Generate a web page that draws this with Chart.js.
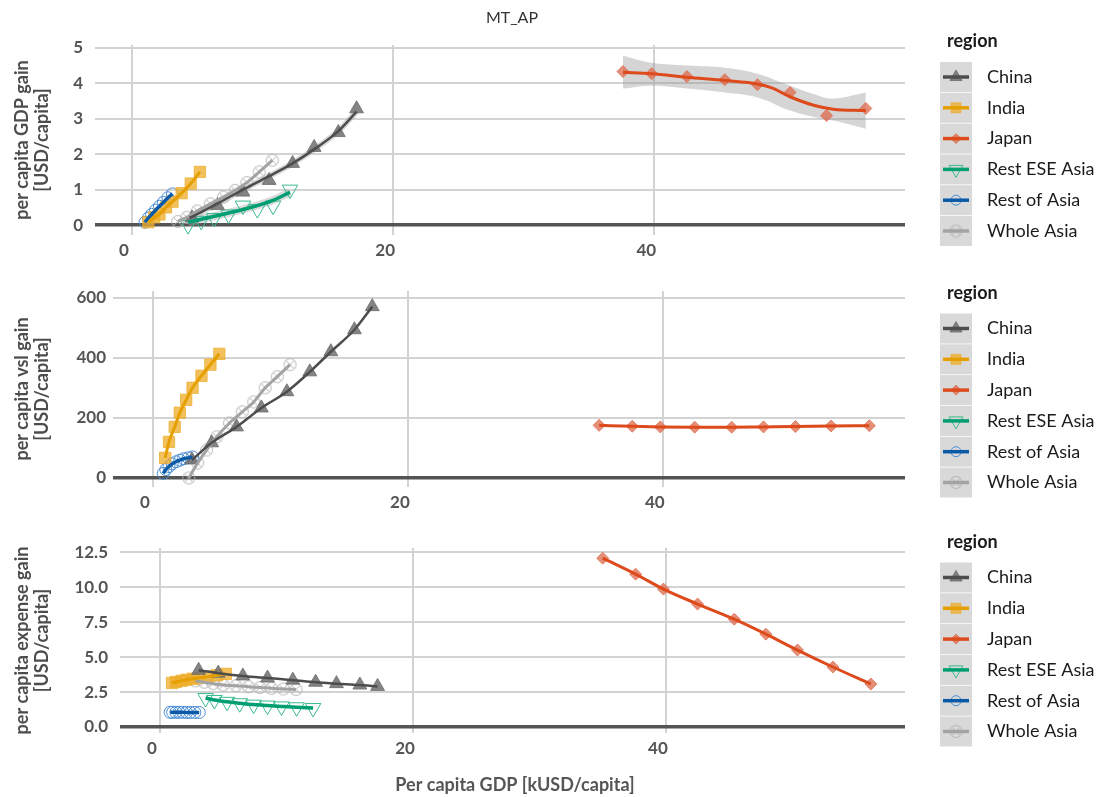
<!DOCTYPE html>
<html lang="en">
<head>
  <meta charset="UTF-8" />
  <title>MT_AP - gains by region</title>
  <script src="https://cdn.jsdelivr.net/npm/chart.js"></script>
  <style>
    body {
      margin: 0;
      background: #ffffff;
      width: 1102px;
      height: 797px;
      overflow: hidden;
      position: relative;
    }
    canvas {
      position: absolute;
      left: 0;
    }
  </style>
</head>
<body>
  <canvas id="gdpGainChart" width="1102" height="262" style="top:0px"></canvas>
  <canvas id="vslGainChart" width="1102" height="255" style="top:262px"></canvas>
  <canvas id="expenseGainChart" width="1102" height="280" style="top:517px"></canvas>

  <script>
    const regions = ['China', 'India', 'Japan', 'Rest ESE Asia', 'Rest of Asia', 'Whole Asia'];

    // per capita GDP [kUSD/capita], one value per period
    const gdpChina = [3.05, 4.6, 6.55, 8.5, 10.5, 12.3, 13.95, 15.8, 17.2];
    const gdpIndia = [0.95, 1.25, 1.7, 2.1, 2.6, 3.1, 3.8, 4.5, 5.2];
    const gdpJapan = [35.0, 37.6, 39.8, 42.5, 45.4, 47.9, 50.4, 53.2, 56.2];
    const gdpRestESE = [3.6, 4.3, 5.3, 6.3, 7.4, 8.5, 9.6, 10.8, 12.1];
    const gdpRestAsia = [0.8, 1.0, 1.25, 1.5, 1.8, 2.1, 2.4, 2.75, 3.1];
    const gdpWhole = [2.8, 3.5, 4.2, 5.0, 6.0, 7.0, 7.9, 8.8, 9.75, 10.75];

    // panel 1: per capita GDP gain (first period has no gain)
    const gdpGainChina = [0.2, 0.55, 0.93, 1.26, 1.74, 2.19, 2.61, 3.28];
    const gdpGainIndia = [0.08, 0.22, 0.3, 0.5, 0.66, 0.9, 1.17, 1.5];
    const gdpGainJapan = [4.33, 4.27, 4.19, 4.10, 3.96, 3.74, 3.09, 3.29];
    const gdpGainRestESE = [0.0, 0.12, 0.2, 0.3, 0.55, 0.45, 0.55, 1.0];
    const gdpGainRestAsia = [0.08, 0.2, 0.3, 0.42, 0.53, 0.64, 0.77, 0.88];
    const gdpGainWhole = [0.1, 0.22, 0.4, 0.6, 0.79, 0.98, 1.2, 1.5, 1.83];

    // smoothed fits in panel 1
    const chinaFitX = [4.4, 6.5, 8.5, 10.5, 12.3, 14.0, 15.8, 17.2];
    const chinaFitY = [0.2, 0.6, 1.0, 1.38, 1.74, 2.15, 2.65, 3.2];
    const japanFitX = [37.6, 39.8, 42.5, 45.4, 47.9, 49.0, 50.4, 52.2, 53.7, 56.2];
    const japanFitY = [4.31, 4.27, 4.17, 4.08, 3.98, 3.87, 3.62, 3.38, 3.27, 3.23];
    const japanBandX = [37.6, 39.8, 42.5, 45.4, 47.9, 50.4, 52.2, 53.7, 56.2];
    const japanBandHi = [4.78, 4.58, 4.5, 4.44, 4.27, 3.93, 3.7, 3.57, 3.74];
    const japanBandLo = [3.85, 3.93, 3.85, 3.74, 3.6, 3.23, 3.05, 2.95, 2.72];
    const restESEFitX = [4.3, 6.3, 8.5, 10.8, 12.1];
    const restESEFitY = [0.08, 0.25, 0.44, 0.7, 0.93];

    // panel 2: per capita vsl gain
    const vslGainChina = [60, 117, 170, 233, 287, 353, 420, 493, 570];
    const vslGainIndia = [67, 120, 170, 217, 260, 300, 340, 377, 413];
    const vslGainJapan = [175, 172, 170, 169, 169, 170, 171, 173, 174];
    const vslGainRestESE = [];
    const vslGainRestAsia = [15, 28, 38, 47, 54, 59, 64, 67, 70];
    const vslGainWhole = [0, 50, 93, 137, 183, 220, 253, 300, 337, 377];

    // panel 3: per capita expense gain
    const expGainChina = [4.05, 3.85, 3.65, 3.5, 3.35, 3.2, 3.1, 3.0, 2.9];
    const expGainIndia = [3.15, 3.22, 3.3, 3.38, 3.45, 3.52, 3.6, 3.7, 3.8];
    const expGainJapan = [12.07, 10.93, 9.86, 8.79, 7.71, 6.64, 5.5, 4.29, 3.07];
    const expGainRestESE = [2.07, 1.93, 1.8, 1.7, 1.6, 1.53, 1.47, 1.41, 1.36];
    const expGainRestAsia = [1.05, 1.05, 1.05, 1.05, 1.05, 1.04, 1.04, 1.04, 1.04];
    const expGainWhole = [3.3, 3.2, 3.1, 3.0, 2.95, 2.88, 2.82, 2.77, 2.72, 2.68];

    // tick labels
    const xTicks = [0, 20, 40];
    const gdpGainTicks = [0, 1, 2, 3, 4, 5];
    const vslGainTicks = [0, 200, 400, 600];
    const expGainTicks = [0, 2.5, 5, 7.5, 10, 12.5];

    Chart.defaults.font.family = 'Lato, sans-serif';

    // ringed cross marker used for Whole Asia
    const crossCircle = (r, color) => {
      const c = document.createElement('canvas');
      const s = Math.ceil(2 * r + 3);
      c.width = s;
      c.height = s;
      const g = c.getContext('2d');
      g.strokeStyle = color;
      g.lineWidth = 1;
      g.beginPath();
      g.arc(s / 2, s / 2, r, 0, Math.PI * 2);
      g.stroke();
      const d = r * 0.72;
      g.beginPath();
      g.moveTo(s / 2 - d, s / 2 - d);
      g.lineTo(s / 2 + d, s / 2 + d);
      g.moveTo(s / 2 + d, s / 2 - d);
      g.lineTo(s / 2 - d, s / 2 + d);
      g.stroke();
      return c;
    };

    const regionStyle = {
      'China': { point: 'triangle', radius: 8, fill: 'rgba(110,110,110,0.85)', stroke: 'rgba(110,110,110,0.85)', strokeWidth: 1, line: '#4d4d4d', lineWidth: 2.5 },
      'India': { point: 'rect', radius: 8, fill: 'rgba(238,172,40,0.75)', stroke: 'rgba(238,172,40,0.75)', strokeWidth: 1, line: '#e69f00', lineWidth: 3 },
      'Japan': { point: 'rectRot', radius: 6, fill: 'rgba(222,105,75,0.75)', stroke: 'rgba(222,105,75,0.75)', strokeWidth: 1, line: '#dd4a1c', lineWidth: 3 },
      'Rest ESE Asia': { point: 'triangle', rotation: 180, radius: 9, fill: 'rgba(0,0,0,0)', stroke: '#3bbb90', strokeWidth: 1, line: '#009e73', lineWidth: 3.5 },
      'Rest of Asia': { point: 'circle', radius: 6, fill: 'rgba(0,0,0,0)', stroke: '#4a8dd3', strokeWidth: 1, line: '#0b5aa8', lineWidth: 3.5 },
      'Whole Asia': { point: crossCircle(6, '#b3b3b3'), radius: 6, fill: 'rgba(0,0,0,0)', stroke: '#b3b3b3', strokeWidth: 1, line: '#a3a3a3', lineWidth: 3 }
    };

    const toPoints = (xs, ys) => ys.map((y, i) => ({ x: xs[i], y: y }));

    const markers = (region, xs, ys) => {
      const st = regionStyle[region];
      return {
        label: region,
        data: toPoints(xs, ys),
        showLine: false,
        order: 2,
        pointStyle: st.point,
        pointRadius: st.radius,
        pointRotation: st.rotation || 0,
        pointBackgroundColor: st.fill,
        pointBorderColor: st.stroke,
        pointBorderWidth: st.strokeWidth
      };
    };

    const curve = (region, xs, ys, halo) => {
      const st = regionStyle[region];
      return {
        label: region + ' line',
        data: toPoints(xs, ys),
        order: 1,
        borderColor: st.line,
        borderWidth: st.lineWidth,
        pointRadius: 0,
        cubicInterpolationMode: 'monotone',
        fill: false
      };
    };

    // thin confidence halo drawn under a fit line
    const halo = (xs, ys, width) => ({
      label: 'halo',
      data: toPoints(xs, ys),
      order: 3,
      borderColor: 'rgba(170,170,170,0.45)',
      borderWidth: width,
      pointRadius: 0,
      cubicInterpolationMode: 'monotone',
      fill: false
    });

    const drawMarker = (ctx, st, x, y, r) => {
      ctx.save();
      ctx.fillStyle = st.fill;
      ctx.strokeStyle = st.stroke;
      ctx.lineWidth = st.strokeWidth;
      if (st.point instanceof HTMLCanvasElement) {
        ctx.drawImage(st.point, x - st.point.width / 2, y - st.point.height / 2);
        ctx.restore();
        return;
      }
      ctx.beginPath();
      if (st.point === 'triangle') {
        const s = st.rotation ? -1 : 1;
        ctx.moveTo(x, y - s * r);
        ctx.lineTo(x + 0.866 * r, y + s * 0.5 * r);
        ctx.lineTo(x - 0.866 * r, y + s * 0.5 * r);
        ctx.closePath();
      } else if (st.point === 'rect') {
        const h = r * Math.SQRT1_2;
        ctx.rect(x - h, y - h, 2 * h, 2 * h);
      } else if (st.point === 'rectRot') {
        ctx.moveTo(x, y - r);
        ctx.lineTo(x + r, y);
        ctx.lineTo(x, y + r);
        ctx.lineTo(x - r, y);
        ctx.closePath();
      } else {
        ctx.arc(x, y, r, 0, Math.PI * 2);
      }
      ctx.fill();
      ctx.stroke();
      ctx.restore();
    };

    const regionLegend = {
      id: 'regionLegend',
      afterDraw(chart, args, opts) {
        const ctx = chart.ctx;
        ctx.save();
        ctx.textBaseline = 'middle';
        ctx.textAlign = 'left';
        if (opts.heading) {
          ctx.fillStyle = '#333333';
          ctx.font = '16px Lato, sans-serif';
          ctx.textAlign = 'center';
          ctx.fillText(opts.heading, 512, 18);
          ctx.textAlign = 'left';
        }
        ctx.fillStyle = '#1a1a1a';
        ctx.font = 'bold 18px Lato, sans-serif';
        ctx.fillText('region', 947, opts.titleY);
        regions.forEach((name, i) => {
          const st = regionStyle[name];
          const top = opts.keyTop + i * 30.8;
          const cy = top + 15;
          ctx.fillStyle = '#d9d9d9';
          ctx.fillRect(940, top, 32, 30);
          drawMarker(ctx, st, 956, cy, st.radius - 1);
          ctx.strokeStyle = st.line;
          ctx.lineWidth = 3.5;
          ctx.beginPath();
          ctx.moveTo(943, cy);
          ctx.lineTo(969, cy);
          ctx.stroke();
          ctx.fillStyle = '#1a1a1a';
          ctx.font = '18px Lato, sans-serif';
          ctx.fillText(name, 987, cy);
        });
        ctx.restore();
      }
    };

    const makePanel = (id, cfg) => new Chart(document.getElementById(id), {
      type: 'line',
      data: { datasets: cfg.datasets },
      options: {
        responsive: false,
        animation: false,
        events: [],
        layout: { padding: { top: cfg.padTop, right: 197, bottom: 0, left: 0 } },
        plugins: {
          legend: { display: false },
          tooltip: { enabled: false },
          regionLegend: cfg.legend
        },
        scales: {
          x: {
            type: 'linear',
            min: cfg.xMin,
            max: cfg.xMax,
            afterBuildTicks: s => { s.ticks = xTicks.map(v => ({ value: v })); },
            afterFit: s => { s.height = cfg.xHeight; },
            grid: { color: '#d3d3d3', lineWidth: 2, drawTicks: false },
            border: { display: false },
            ticks: { color: '#555555', font: { size: 17, weight: 'bold' }, padding: 5, labelOffset: -8 },
            title: cfg.xTitle ? {
              display: true,
              text: cfg.xTitle,
              color: '#555555',
              font: { size: 18, weight: 'bold' },
              padding: { top: 0, bottom: 1 }
            } : { display: false }
          },
          y: {
            type: 'linear',
            min: cfg.yMin,
            max: cfg.yMax,
            afterBuildTicks: s => { s.ticks = cfg.yTicks.map(v => ({ value: v })); },
            afterFit: s => { s.width = cfg.yWidth; },
            grid: {
              color: c => (c.tick && c.tick.value === 0) ? '#545454' : '#d3d3d3',
              lineWidth: c => (c.tick && c.tick.value === 0) ? 3.5 : 2,
              tickLength: 5
            },
            border: { display: false },
            ticks: {
              color: '#555555',
              font: { size: 17, weight: 'bold' },
              padding: cfg.yPad,
              callback: cfg.yFormat || (v => v)
            },
            title: {
              display: true,
              text: cfg.yTitle,
              color: '#4d4d4d',
              font: { size: 18, weight: 'bold', lineHeight: 1.1 },
              padding: { top: 12, bottom: 0 }
            }
          }
        }
      },
      plugins: [regionLegend]
    });

    const p1 = (xs) => xs.slice(1);

    makePanel('gdpGainChart', {
      padTop: 45, xHeight: 27, yWidth: 100, yPad: 12,
      xMin: -2.45, xMax: 59.2, yMin: -0.28, yMax: 5.08,
      yTicks: gdpGainTicks,
      yTitle: ['per capita GDP gain', '[USD/capita]'],
      legend: { heading: 'MT_AP', titleY: 41, keyTop: 62 },
      datasets: [
        { label: 'Japan band hi', data: toPoints(japanBandX, japanBandHi), fill: '+1', backgroundColor: 'rgba(150,150,150,0.4)', borderWidth: 0, pointRadius: 0, tension: 0.4, order: 3 },
        { label: 'Japan band lo', data: toPoints(japanBandX, japanBandLo), fill: false, borderWidth: 0, pointRadius: 0, tension: 0.4, order: 3 },
        halo(restESEFitX, restESEFitY, 8),
        halo(chinaFitX, chinaFitY, 6),
        markers('China', p1(gdpChina), gdpGainChina),
        markers('India', p1(gdpIndia), gdpGainIndia),
        markers('Japan', p1(gdpJapan), gdpGainJapan),
        markers('Rest ESE Asia', p1(gdpRestESE), gdpGainRestESE),
        markers('Rest of Asia', p1(gdpRestAsia), gdpGainRestAsia),
        markers('Whole Asia', p1(gdpWhole), gdpGainWhole),
        curve('China', chinaFitX, chinaFitY),
        curve('India', p1(gdpIndia), gdpGainIndia),
        curve('Japan', japanFitX, japanFitY),
        curve('Rest ESE Asia', restESEFitX, restESEFitY),
        curve('Rest of Asia', p1(gdpRestAsia), gdpGainRestAsia),
        curve('Whole Asia', p1(gdpWhole), gdpGainWhole)
      ]
    });

    makePanel('vslGainChart', {
      padTop: 29, xHeight: 30, yWidth: 118, yPad: 7,
      xMin: -2.75, xMax: 59.0, yMin: -30, yMax: 622,
      yTicks: vslGainTicks,
      yTitle: ['per capita vsl gain', '[USD/capita]'],
      legend: { titleY: 31, keyTop: 51.5 },
      datasets: [
        markers('China', gdpChina, vslGainChina),
        markers('India', gdpIndia, vslGainIndia),
        markers('Japan', gdpJapan, vslGainJapan),
        markers('Rest ESE Asia', gdpRestESE, vslGainRestESE),
        markers('Rest of Asia', gdpRestAsia, vslGainRestAsia),
        markers('Whole Asia', gdpWhole, vslGainWhole),
        curve('China', gdpChina, vslGainChina),
        curve('India', gdpIndia, vslGainIndia),
        curve('Japan', gdpJapan, vslGainJapan),
        curve('Rest ESE Asia', gdpRestESE, vslGainRestESE),
        curve('Rest of Asia', gdpRestAsia, vslGainRestAsia),
        curve('Whole Asia', gdpWhole, vslGainWhole)
      ]
    });

    makePanel('expenseGainChart', {
      padTop: 31, xHeight: 64, yWidth: 125, yPad: 12,
      xMin: -2.77, xMax: 58.9, yMin: -0.43, yMax: 12.8,
      yTicks: expGainTicks,
      yFormat: v => v.toFixed(1),
      yTitle: ['per capita expense gain', '[USD/capita]'],
      xTitle: 'Per capita GDP [kUSD/capita]',
      legend: { titleY: 25, keyTop: 45.5 },
      datasets: [
        markers('China', gdpChina, expGainChina),
        markers('India', gdpIndia, expGainIndia),
        markers('Japan', gdpJapan, expGainJapan),
        markers('Rest ESE Asia', gdpRestESE, expGainRestESE),
        markers('Rest of Asia', gdpRestAsia, expGainRestAsia),
        markers('Whole Asia', gdpWhole, expGainWhole),
        curve('China', gdpChina, expGainChina),
        curve('India', gdpIndia, expGainIndia),
        curve('Japan', gdpJapan, expGainJapan),
        curve('Rest ESE Asia', gdpRestESE, expGainRestESE),
        curve('Rest of Asia', gdpRestAsia, expGainRestAsia),
        curve('Whole Asia', gdpWhole, expGainWhole)
      ]
    });
  </script>
</body>
</html>
